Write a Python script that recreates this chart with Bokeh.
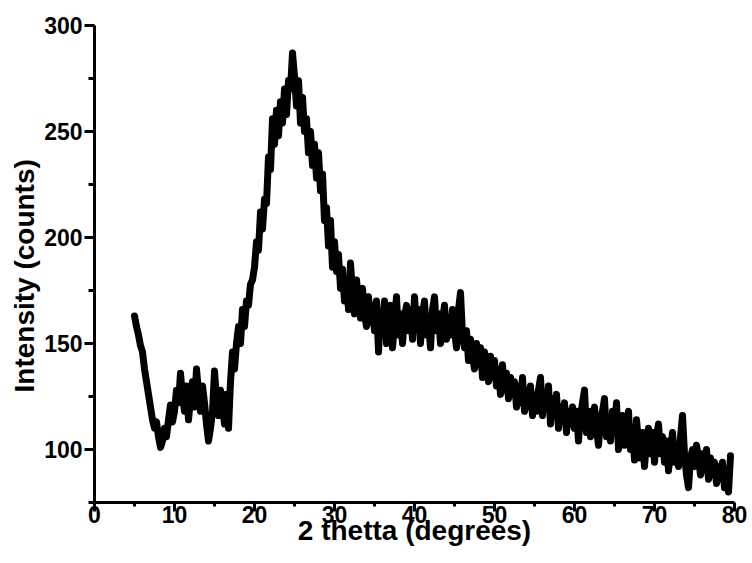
from bokeh.plotting import figure
from bokeh.models import Range1d, FixedTicker, Title
from bokeh.embed import file_html
from bokeh.resources import INLINE

x_start = 5.0
x_step = 0.25

intensity = [
    # 5.00 - 9.75
    163, 158, 154, 149, 146, 138, 132, 126, 120, 114, 110, 113, 106, 101, 104, 110, 106, 114, 121, 113,
    # 10.00 - 14.75
    118, 128, 122, 136, 125, 118, 130, 114, 124, 132, 120, 138, 127, 118, 130, 122, 112, 104, 110, 118,
    # 15.00 - 19.75
    137, 124, 116, 128, 120, 112, 126, 110, 132, 146, 138, 150, 158, 150, 166, 158, 170, 168, 178, 180,
    # 20.00 - 24.75
    186, 198, 194, 212, 204, 218, 216, 238, 232, 256, 244, 260, 248, 264, 254, 270, 258, 274, 270, 287,
    # 25.00 - 29.75
    276, 262, 274, 254, 266, 250, 256, 240, 250, 234, 244, 228, 240, 222, 230, 208, 214, 196, 208, 186,
    # 30.00 - 34.75
    198, 184, 192, 176, 185, 170, 180, 166, 188, 174, 164, 180, 170, 162, 176, 164, 158, 172, 160, 168,
    # 35.00 - 39.75
    156, 170, 146, 165, 158, 170, 150, 162, 168, 148, 160, 172, 154, 164, 150, 162, 168, 156, 166, 152,
    # 40.00 - 44.75
    172, 158, 166, 150, 164, 170, 154, 160, 148, 166, 172, 156, 164, 150, 160, 168, 152, 162, 154, 166,
    # 45.00 - 49.75
    156, 148, 166, 174, 154, 148, 156, 142, 152, 144, 138, 150, 140, 148, 134, 146, 138, 132, 144, 134,
    # 50.00 - 54.75
    142, 130, 138, 126, 140, 128, 136, 124, 134, 126, 132, 120, 130, 122, 134, 118, 128, 120, 130, 116,
    # 55.00 - 59.75
    126, 118, 128, 134, 116, 126, 120, 130, 112, 124, 116, 126, 110, 120, 114, 122, 108, 118, 112, 120,
    # 60.00 - 64.75
    110, 118, 104, 116, 122, 128, 108, 118, 106, 116, 120, 110, 102, 114, 118, 124, 106, 114, 104, 118,
    # 65.00 - 69.75
    110, 122, 100, 110, 116, 102, 112, 118, 100, 110, 95, 114, 104, 96, 108, 92, 104, 110, 98, 108,
    # 70.00 - 74.75
    94, 106, 112, 98, 106, 94, 104, 90, 100, 108, 94, 102, 92, 106, 116, 98, 88, 82, 96, 100,
    # 75.00 - 79.50
    92, 102, 96, 88, 98, 90, 100, 86, 96, 88, 94, 84, 92, 86, 94, 82, 90, 80, 97,
]

two_theta = [x_start + i * x_step for i in range(len(intensity))]

x_ticks = [0, 10, 20, 30, 40, 50, 60, 70, 80]
x_minor = [5, 15, 25, 35, 45, 55, 65, 75]
y_ticks = [100, 150, 200, 250, 300]
y_minor = [75, 125, 175, 225, 275]

x_title = "2 thetta (degrees)"
y_title = "Intensity (counts)"

FONT = "Liberation Sans"

p = figure(width=750, height=556, output_backend="svg", toolbar_location=None,
           x_range=Range1d(0, 80), y_range=Range1d(75, 300),
           min_border_left=94, min_border_right=16, min_border_top=25, min_border_bottom=54)

p.line(two_theta, intensity, line_color="black", line_width=7,
       line_join="round", line_cap="round")

p.xgrid.visible = False
p.ygrid.visible = False
p.outline_line_color = None
p.background_fill_color = "white"
p.border_fill_color = "white"

p.xaxis.ticker = FixedTicker(ticks=x_ticks, minor_ticks=x_minor)
p.yaxis.ticker = FixedTicker(ticks=y_ticks, minor_ticks=y_minor)

for ax in (p.xaxis[0], p.yaxis[0]):
    ax.axis_line_width = 3
    ax.axis_line_color = "black"
    ax.major_tick_line_width = 3
    ax.minor_tick_line_width = 3
    ax.major_tick_line_color = "black"
    ax.minor_tick_line_color = "black"
    ax.major_tick_in = 0
    ax.minor_tick_in = 0
    ax.major_label_text_font = FONT
    ax.major_label_text_font_style = "bold"
    ax.major_label_text_font_size = "23px"
    ax.major_label_text_color = "black"
    ax.axis_label_text_font = FONT
    ax.axis_label_text_font_style = "bold"
    ax.axis_label_text_font_size = "28px"
    ax.axis_label_text_color = "black"

p.xaxis.major_tick_out = 9
p.xaxis.minor_tick_out = 4
p.yaxis.major_tick_out = 10
p.yaxis.minor_tick_out = 6
p.xaxis.major_label_standoff = -6
p.yaxis.major_label_standoff = 2
p.xaxis.axis_label = x_title
p.xaxis.axis_label_standoff = -11

p.add_layout(Title(text=y_title, align="left", offset=110, standoff=4,
                   text_font=FONT, text_font_style="bold",
                   text_font_size="28px", text_color="black"), "left")

open("out.html", "w").write(file_html(p, INLINE))
